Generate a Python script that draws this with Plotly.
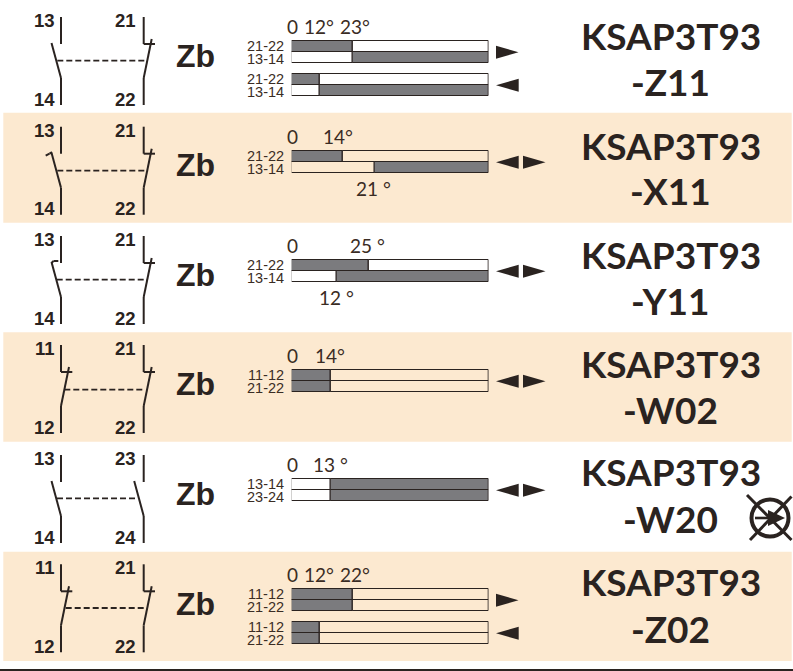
import plotly.graph_objects as go

# ---------- data ----------
TERMINALS = [["13", "14", "21", "22"], ["13", "14", "21", "22"], ["13", "14", "21", "22"],
             ["11", "12", "21", "22"], ["13", "14", "23", "24"], ["11", "12", "21", "22"]]
CONTACT_KINDS = [["no", "nc"], ["hook_left", "nc"], ["hook_right", "nc"],
                 ["nc", "nc"], ["no", "no"], ["nc", "nc"]]
FAMILY = ["Zb"] * 6
REFERENCE = ["KSAP3T93"] * 6
SUFFIX = ["-Z11", "-X11", "-Y11", "-W02", "-W20", "-Z02"]

# one entry per timing diagram; travel is the share (%) of the bar length
CONTACT_LABELS = [["21-22", "13-14"], ["21-22", "13-14"], ["21-22", "13-14"], ["21-22", "13-14"],
                  ["11-12", "21-22"], ["13-14", "23-24"], ["11-12", "21-22"], ["11-12", "21-22"]]
SWITCH_TRAVEL = [[31, 31], [14, 14], [25.7, 41.9], [38.9, 22.6],
                 [19.6, 19.6], [19.6, 19.6], [31, 31], [14, 14]]
# state of each band before / after its switch point (1 = closed, grey)
BAND_STATES = [[(1, 0), (0, 1)], [(1, 0), (0, 1)], [(1, 0), (0, 1)], [(1, 0), (0, 1)],
               [(1, 0), (1, 0)], [(0, 1), (0, 1)], [(1, 0), (1, 0)], [(1, 0), (1, 0)]]
ARROWS = [["r"], ["l"], ["l", "r"], ["l", "r"], ["l", "r"], ["l", "r"], ["r"], ["l"]]
ANGLE_TEXT = [["0", "12°", "23°"], ["0", "14°", "21 °"], ["0", "25 °", "12 °"], ["0", "14°"],
              ["0", "13 °"], ["0", "12°", "22°"]]

# ---------- layout constants ----------
W, H = 793, 671
INK, GREY, PEACH, TXT = "#2a2320", "#7b7b7e", "#fce9d0", "#3a2c24"
BANDS = [(112.7, 222.7), (332.3, 441.7), (551.7, 661)]
POST_TOP = [17, 126.7, 236, 345, 455, 564.3]
DASH_Y = [60.7, 170.7, 279.7, 389.7, 498.3, 608]
DASH_X = [(57.3, 147.7), (57.3, 148), (56.7, 147.7), (64.3, 145), (57, 137.7), (65.7, 145)]
ZB_Y = [56, 165, 275, 384, 494, 604]
TITLE_Y = [(35.5, 81.5), (145.5, 190.5), (254.5, 300.5), (363.5, 409.5), (471.5, 518.5), (581.5, 628.5)]
DIAGRAM_TOP = [41.3, 74.3, 151.3, 260.3, 370.3, 479.3, 589.3, 622.3]
BAR_H = 11
BAR_X = (291.7, 488.7)
ANGLE_POS = [[(292.5, 26), (319, 26), (354.5, 26)], [(292.3, 136), (338, 136), (373.5, 188)],
             [(292, 245), (367, 245), (336, 297)], [(292, 355), (330, 355)],
             [(292, 464), (330, 464)], [(292, 574), (319, 574), (355, 574)]]

fig = go.Figure()
shapes, notes = [], []


def seg(x0, y0, x1, y1, width=2, dash=None):
    shapes.append(dict(type="line", x0=x0, y0=y0, x1=x1, y1=y1, xref="x", yref="y", layer="above",
                       line=dict(color=INK, width=width, dash=dash)))


def poly(points, fill=INK):
    path = "M" + " L".join(f"{a},{b}" for a, b in points) + " Z"
    shapes.append(dict(type="path", path=path, xref="x", yref="y", fillcolor=fill,
                       line=dict(width=0), layer="above"))


def text(x, y, s, size, family="Liberation Sans", weight=None, color=INK, anchor="center"):
    notes.append(dict(x=x, y=y, xref="x", yref="y", text=s, showarrow=False, xanchor=anchor, yanchor="middle",
                      font=dict(family=family, size=size, color=color, weight=weight)))


def contact(kind, x, y0):
    seg(x, y0, x, y0 + 27)
    seg(x, y0 + 61, x, y0 + 88)
    if kind == "nc":
        seg(x, y0 + 27, x + 11.3, y0 + 27)
        seg(x, y0 + 61, x + 8, y0 + 22)
    else:
        seg(x, y0 + 61, x - 9.5, y0 + 26)
        if kind == "hook_left":
            seg(x - 11.5, y0 + 27, x - 9, y0 + 25.5)
            seg(x - 15.3, y0 + 29, x - 11.5, y0 + 27)
        if kind == "hook_right":
            seg(x - 9.5, y0 + 27, x - 7.5, y0 + 25)
            seg(x - 7.5, y0 + 25, x - 2.7, y0 + 25)


for lo, hi in BANDS:
    shapes.append(dict(type="rect", x0=3.3, x1=791.7, y0=lo, y1=hi, xref="x", yref="y",
                       fillcolor=PEACH, line=dict(width=0), layer="below"))
seg(0, 670, W, 670, width=2)

for r, top in enumerate(POST_TOP):
    contact(CONTACT_KINDS[r][0], 61, top)
    contact(CONTACT_KINDS[r][1], 143.7, top)
    seg(DASH_X[r][0], DASH_Y[r], DASH_X[r][1], DASH_Y[r], width=1.8, dash="6px,3px")
    a, b, c, d = TERMINALS[r]
    text(57, top + 3.5, a, 18.5, weight=700, anchor="right")
    text(57, top + 82, b, 18.5, weight=700, anchor="right")
    text(137.5, top + 3.5, c, 18.5, weight=700, anchor="right")
    text(137.5, top + 82, d, 18.5, weight=700, anchor="right")
    text(195, ZB_Y[r], FAMILY[r], 32, weight=700)
    text(671, TITLE_Y[r][0], REFERENCE[r], 37, family="Lato", weight=700)
    text(670, TITLE_Y[r][1], SUFFIX[r], 37, family="Lato", weight=700)
    for s, (x, y) in zip(ANGLE_TEXT[r], ANGLE_POS[r]):
        text(x, y, s, 19, family="Lato", color=TXT)

for i, top in enumerate(DIAGRAM_TOP):
    for j in range(2):
        y = top + BAR_H * (j + 0.5)
        split = SWITCH_TRAVEL[i][j]
        before, after = BAND_STATES[i][j]
        for base, length, closed in ((0, split, before), (split, 100 - split, after)):
            fig.add_trace(go.Bar(
                x=[length], y=[y], base=[base], orientation="h", width=[BAR_H], xaxis="x2", yaxis="y",
                marker=dict(color=GREY if closed else "rgba(0,0,0,0)", line=dict(color=INK, width=1)),
                showlegend=False, hoverinfo="skip"))
        text(286, y + (-0.5 if j == 0 else 1.5), CONTACT_LABELS[i][j], 14.5, color=TXT, anchor="right")
    mid = top + BAR_H
    for a in ARROWS[i]:
        if a == "r":
            left = 496 if len(ARROWS[i]) == 1 else 523
            poly([(left, mid - 6.5), (left + 22.5, mid), (left, mid + 6.5)])
        else:
            poly([(496, mid), (518.7, mid - 6.5), (518.7, mid + 6.5)])

# lamp symbol
shapes.append(dict(type="circle", x0=751.5, x1=788.5, y0=499.5, y1=536.5, xref="x", yref="y", layer="above",
                   line=dict(color=INK, width=4)))
seg(747, 495, 791.5, 540, width=3)
seg(791.5, 496.5, 750, 540, width=3)
seg(755, 518, 772, 518, width=2.6)
poly([(768, 510), (785, 518), (768, 526)])

fig.update_layout(
    width=W, height=H, margin=dict(l=0, r=0, t=0, b=0), autosize=False,
    paper_bgcolor="white", plot_bgcolor="rgba(0,0,0,0)", barmode="overlay", bargap=0,
    showlegend=False, shapes=shapes, annotations=notes,
    xaxis=dict(range=[0, W], visible=False, domain=[0, 1], fixedrange=True),
    xaxis2=dict(range=[0, 100], visible=False, domain=[BAR_X[0] / W, BAR_X[1] / W],
                anchor="y", fixedrange=True),
    yaxis=dict(range=[H, 0], visible=False, domain=[0, 1], fixedrange=True),
)

fig.write_html("out.html", config=dict(displayModeBar=False),
               post_script="document.body.style.margin='0';document.body.style.overflow='hidden';")
